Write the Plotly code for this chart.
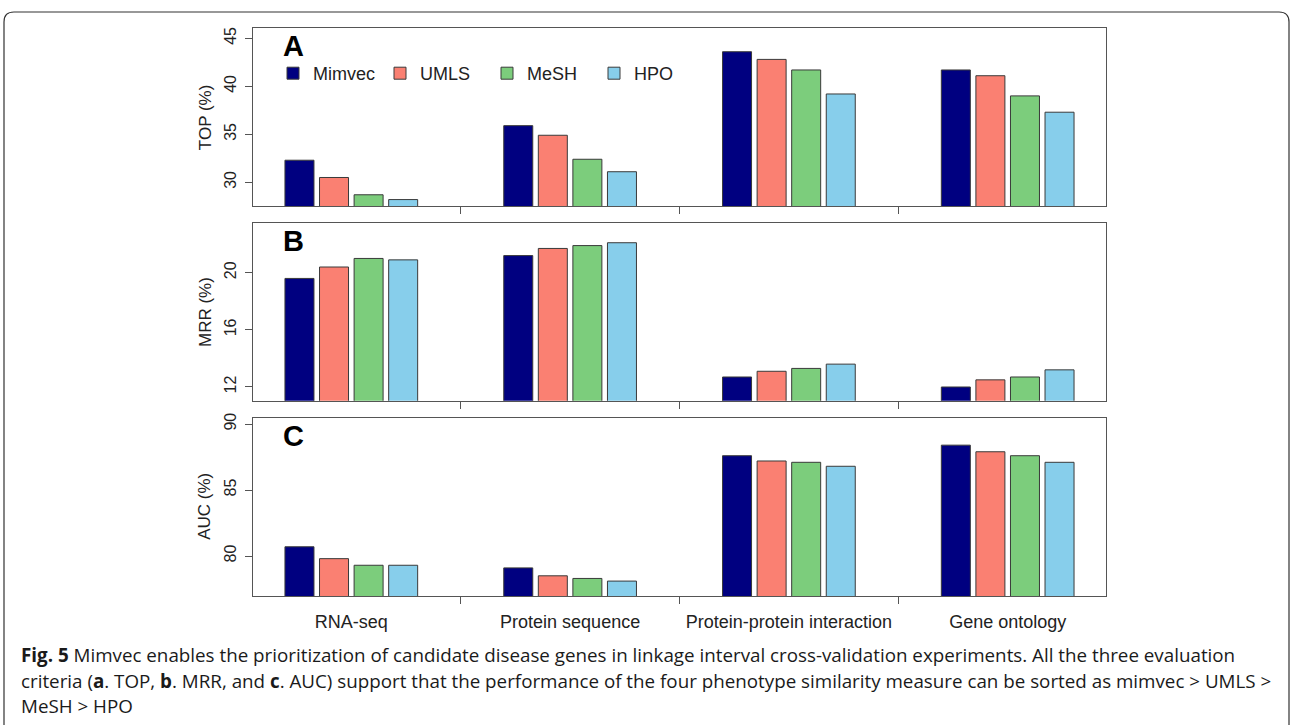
import plotly.graph_objects as go

# ---------------- data ----------------
CATEGORIES = ["RNA-seq", "Protein sequence", "Protein-protein interaction", "Gene ontology"]
METHODS = ["Mimvec", "UMLS", "MeSH", "HPO"]
COLORS = ["#000080", "#FA8072", "#7CCD7C", "#87CEEB"]

TOP_MIMVEC = [32.3, 35.9, 43.6, 41.7]
TOP_UMLS = [30.5, 34.9, 42.8, 41.1]
TOP_MESH = [28.7, 32.4, 41.7, 39.0]
TOP_HPO = [28.2, 31.1, 39.2, 37.3]

MRR_MIMVEC = [19.6, 21.2, 12.7, 12.0]
MRR_UMLS = [20.4, 21.7, 13.1, 12.5]
MRR_MESH = [21.0, 21.9, 13.3, 12.7]
MRR_HPO = [20.9, 22.1, 13.6, 13.2]

AUC_MIMVEC = [80.7, 79.1, 87.6, 88.4]
AUC_UMLS = [79.8, 78.5, 87.2, 87.9]
AUC_MESH = [79.3, 78.3, 87.1, 87.6]
AUC_HPO = [79.3, 78.1, 86.8, 87.1]

TOP_TICKS = [30, 35, 40, 45]
MRR_TICKS = [12, 16, 20]
AUC_TICKS = [80, 85, 90]

CAPTION_1 = ("<b>Fig. 5</b> Mimvec enables the prioritization of candidate disease genes in linkage "
             "interval cross-validation experiments. All the three evaluation")
CAPTION_2 = ("criteria (<b>a</b>. TOP, <b>b</b>. MRR, and <b>c</b>. AUC) support that the performance "
             "of the four phenotype similarity measure can be sorted as mimvec &gt; UMLS &gt;")
CAPTION_3 = "MeSH &gt; HPO"

# ---------------- layout helpers ----------------
W, H = 1292, 725


def fx(p):
    return p / W


def fy(p):
    return 1 - p / H


AXIS_COLOR = "#555555"
FONT = "Liberation Sans, Arial, Helvetica, sans-serif"

panels = [
    dict(vals=[TOP_MIMVEC, TOP_UMLS, TOP_MESH, TOP_HPO], xa="x", ya="y",
         top=28.3, bottom=206.0, rng=[27.53, 46.04], ticks=TOP_TICKS, title="TOP (%)", label="A"),
    dict(vals=[MRR_MIMVEC, MRR_UMLS, MRR_MESH, MRR_HPO], xa="x2", ya="y2",
         top=223.3, bottom=400.7, rng=[11.04, 23.46], ticks=MRR_TICKS, title="MRR (%)", label="B"),
    dict(vals=[AUC_MIMVEC, AUC_UMLS, AUC_MESH, AUC_HPO], xa="x3", ya="y3",
         top=417.7, bottom=596.0, rng=[76.97, 90.48], ticks=AUC_TICKS, title="AUC (%)", label="C"),
]

fig = go.Figure()
for i, p in enumerate(panels):
    for m, c, v in zip(METHODS, COLORS, p["vals"]):
        fig.add_trace(go.Bar(
            x=CATEGORIES, y=v, name=m, xaxis=p["xa"], yaxis=p["ya"],
            marker=dict(color=c, line=dict(color="#3a3a3a", width=1)),
            legendgroup=m, showlegend=(i == 0), hoverinfo="x+y+name",
        ))

layout = dict(
    width=W, height=H,
    margin=dict(l=0, r=0, t=0, b=0, autoexpand=False),
    paper_bgcolor="white", plot_bgcolor="white",
    barmode="group", bargap=0.368, bargroupgap=0.161,
    font=dict(family=FONT, size=15, color="#222222"),
    showlegend=True,
    legend=dict(orientation="h", x=fx(273), y=fy(55), xanchor="left", yanchor="top",
                entrywidth=62, entrywidthmode="pixels",
                font=dict(family=FONT, size=18, color="#222222"),
                bgcolor="rgba(0,0,0,0)", borderwidth=0, tracegroupgap=0),
)

annotations = []
x_dom = [fx(253.3), fx(1105.7)]
for i, p in enumerate(panels):
    sfx = "" if i == 0 else str(i + 1)
    layout["xaxis" + sfx] = dict(
        domain=x_dom, anchor=p["ya"], type="category",
        categoryorder="array", categoryarray=CATEGORIES,
        range=[-0.448, 3.448], showgrid=False, zeroline=False,
        showline=True, linecolor=AXIS_COLOR, linewidth=1, mirror=True,
        ticks="outside", tickson="boundaries", ticklen=7, tickcolor=AXIS_COLOR,
        showticklabels=(i == 2), tickfont=dict(size=18, color="#222222"),
        ticklabelstandoff=9, tickangle=0, automargin=False, fixedrange=True,
    )
    layout["yaxis" + sfx] = dict(
        domain=[fy(p["bottom"]), fy(p["top"])], anchor=p["xa"],
        range=p["rng"], tickvals=p["ticks"], showgrid=False, zeroline=False,
        showline=True, linecolor=AXIS_COLOR, linewidth=1, mirror=True,
        ticks="outside", ticklen=7, tickcolor=AXIS_COLOR, tickangle=-90,
        tickfont=dict(size=16, color="#222222"), ticklabelstandoff=3,
        automargin=False, fixedrange=True,
    )
    annotations.append(dict(
        text=p["title"], xref="paper", yref="paper", x=fx(205),
        y=(fy(p["bottom"]) + fy(p["top"])) / 2, textangle=-90, showarrow=False,
        xanchor="center", yanchor="middle", font=dict(size=17, color="#222222"),
    ))
    annotations.append(dict(
        text="<b>" + p["label"] + "</b>", xref="paper", yref="paper", x=fx(293),
        y=fy(p["top"] + 18), showarrow=False, xanchor="center", yanchor="middle",
        font=dict(size=29, color="black", family="Liberation Sans, Arial, sans-serif"),
    ))

CAP_FONT = dict(family="Open Sans, Noto Sans, sans-serif", size=18.8, color="#1a1a1a")
for txt, ypx in [(CAPTION_1, 655), (CAPTION_2, 681), (CAPTION_3, 706)]:
    annotations.append(dict(
        text=txt, xref="paper", yref="paper", x=fx(19), y=fy(ypx), showarrow=False,
        xanchor="left", yanchor="middle", align="left", font=CAP_FONT,
    ))

layout["annotations"] = annotations

# rounded frame around the figure panel
r = 10
x0, x1, y0 = 4, 1289, 12
path = (f"M {fx(x0)},{fy(740)} L {fx(x0)},{fy(y0 + r)} Q {fx(x0)},{fy(y0)} {fx(x0 + r)},{fy(y0)} "
        f"L {fx(x1 - r)},{fy(y0)} Q {fx(x1)},{fy(y0)} {fx(x1)},{fy(y0 + r)} L {fx(x1)},{fy(740)}")
layout["shapes"] = [dict(type="path", xref="paper", yref="paper", path=path,
                         line=dict(color="#333333", width=1.2))]

fig.update_layout(**layout)
fig.write_html("out.html", config={"displayModeBar": False},
               post_script="document.body.style.margin='0px';document.body.style.overflow='hidden';")
